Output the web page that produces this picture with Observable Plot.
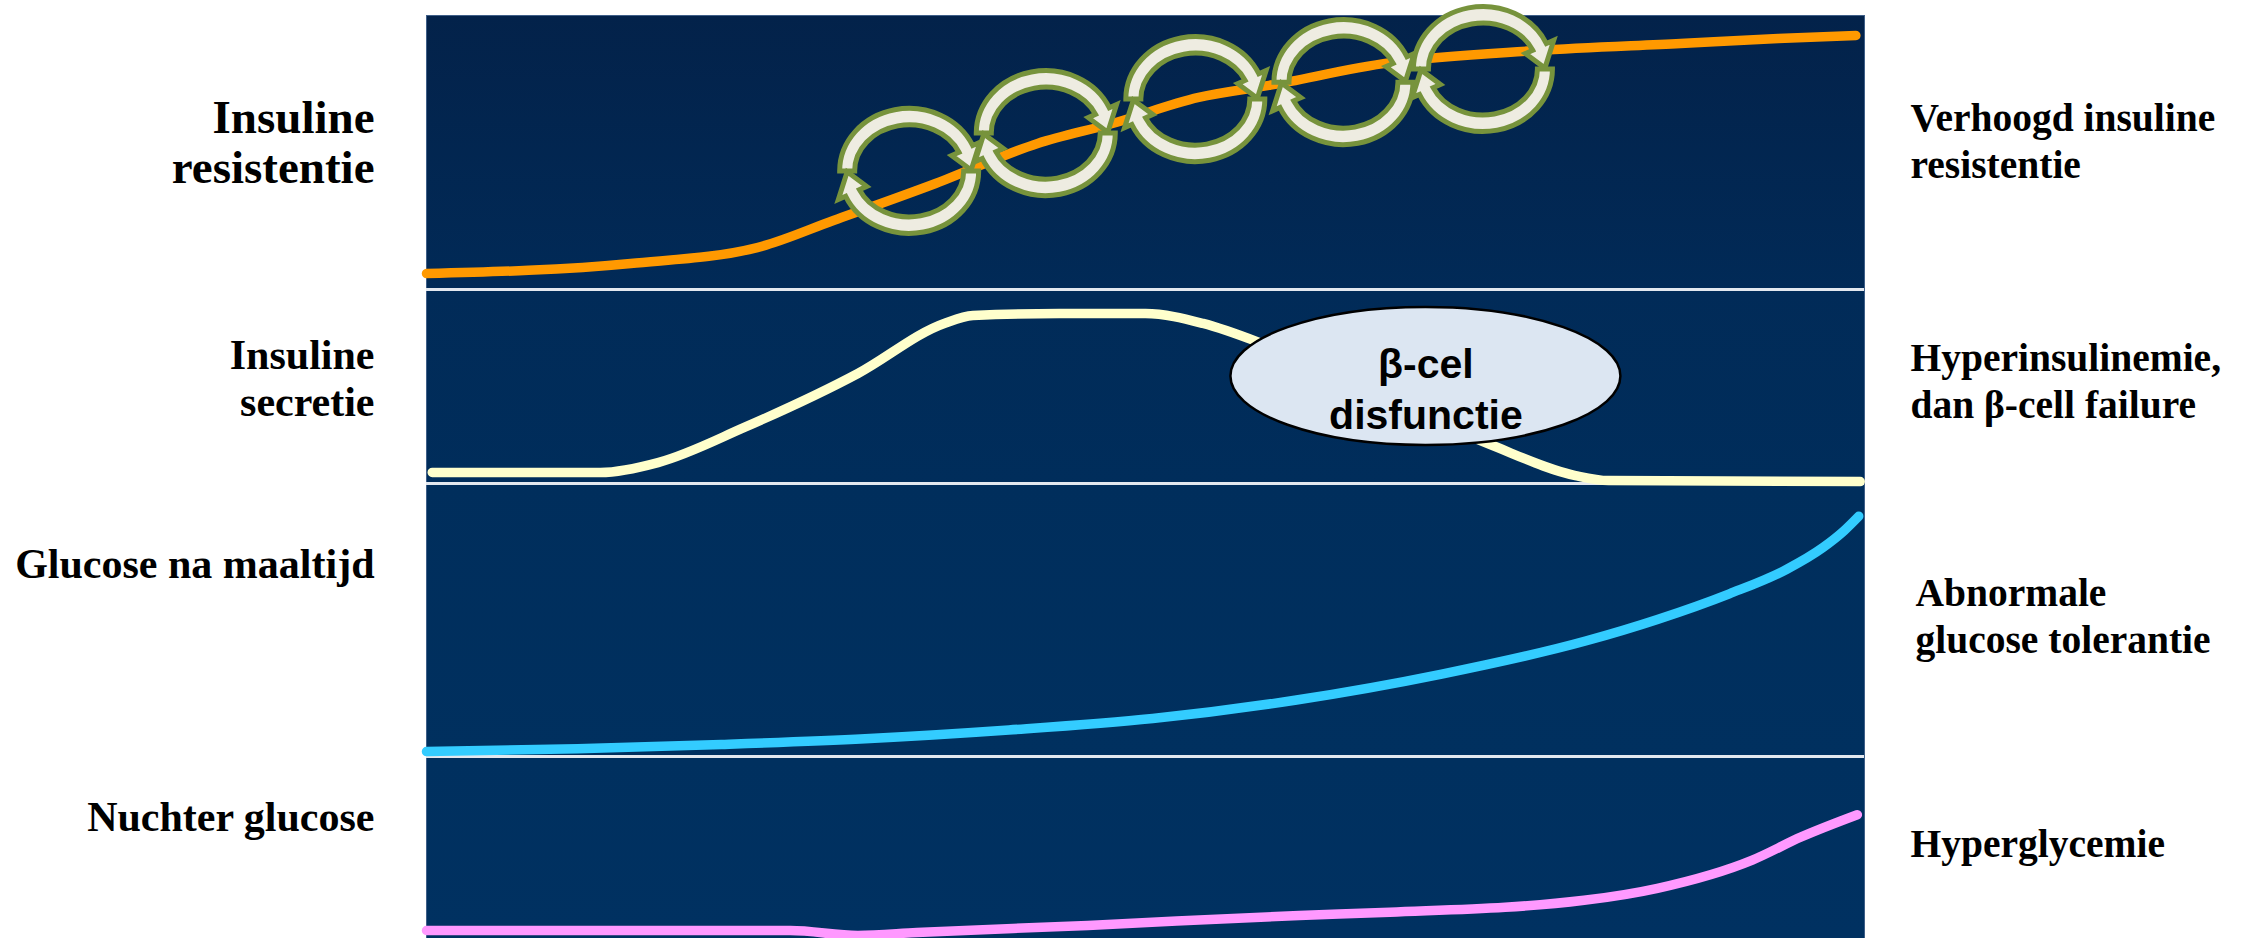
<!DOCTYPE html>
<html>
<head>
<meta charset="utf-8">
<script src="https://cdn.jsdelivr.net/npm/d3@7"></script>
<script src="https://cdn.jsdelivr.net/npm/@observablehq/plot@0.6"></script>
<style>
  html, body { margin: 0; padding: 0; background: #ffffff; }
  #chart { width: 2259px; height: 938px; position: relative; }
  #chart svg { display: block; }
</style>
</head>
<body>
<div id="chart"></div>
<script>
// ---------------- DATA (x = relative time 0–100, y = relative level 0–100 per band) ----------------
const resistanceX = [0, 14.2, 23, 28.3, 35.4, 42.5, 47.7, 53.7, 58.6, 67, 77.2, 87.2, 94, 99.4];
const resistanceY = [5.8, 9.5, 15.3, 25.2, 38.7, 53.3, 60.6, 70.1, 74.5, 82.8, 87.2, 89.8, 91.6, 92.7];

const secretionX = [0.4, 12.1, 16.1, 22.1, 30.0, 36.0, 38.0, 44.0, 50.0, 54.0, 57.9, 65.5, 73.8, 79.9, 82.2, 99.7];
const secretionY = [5.7, 5.7, 10.8, 28.9, 56.7, 82.5, 86.6, 87.6, 87.6, 82.5, 72.7, 46.9, 20.6, 4.1, 1.5, 1.0];

const postMealX = [0, 10.5, 20.5, 30.5, 40.5, 50.5, 60.5, 70.6, 80.6, 85.6, 90.6, 94.6, 97.1, 98.6, 99.6];
const postMealY = [1.8, 2.8, 4.4, 6.5, 9.7, 13.9, 20.7, 30.2, 42.3, 50.2, 59.6, 68.6, 76.5, 82.8, 88.0];

const fastingX = [0, 25.3, 30.0, 34.1, 46.0, 60.7, 67, 80.5, 85.6, 92.2, 95.6, 99.5];
const fastingY = [4.4, 4.4, 1.7, 3.3, 7.2, 12.7, 14.4, 21.0, 27.6, 43.1, 55.8, 68.0];

// vicious-cycle arrows along the insulin-resistance curve
const cycleX = [33.6, 43.1, 53.5, 63.8, 73.5];
const cycleY = [43.1, 56.9, 69.3, 75.5, 80.3];

// callout in the secretion band
const calloutLabel = ["β-cel\ndisfunctie"];
const calloutX = [69.5];
const calloutEllipseY = [55.2];
const calloutTextY = [49.5];

const leftLabels = ["Insuline\nresistentie", "Insuline\nsecretie", "Glucose na maaltijd", "Nuchter glucose"];
const rightLabels = ["Verhoogd insuline\nresistentie", "Hyperinsulinemie,\ndan β-cell failure", "Abnormale\nglucose tolerantie", "Hyperglycemie"];
const seriesColors = ["#ff9900", "#ffffcc", "#33ccff", "#ff99ff"];

// ---------------- LAYOUT ----------------
const W = 2259, ML = 426, MR = 395;
const ns = "http://www.w3.org/2000/svg";
const series = [
  [resistanceX, resistanceY],
  [secretionX, secretionY],
  [postMealX, postMealY],
  [fastingX, fastingY]
];
const panels = [
  {height: 289, top: 15, bg: ["#03224a", "#012a57"], left: {size: 47, lh: 50, base: 182}, right: {size: 39.5, lh: 47, base: 177, dx: 46}, sep: true},
  {height: 194, top: 0,  bg: ["#012b58", "#002d5b"], left: {size: 42, lh: 47, base: 126}, right: {size: 39.5, lh: 47, base: 128, dx: 46}, sep: true},
  {height: 273, top: 0,  bg: ["#002e5c", "#00305f"], left: {size: 42, lh: 47, base: 94},  right: {size: 39.5, lh: 47, base: 169, dx: 51}, sep: true},
  {height: 182, top: 0,  bg: ["#00305f", "#003161"], left: {size: 42, lh: 47, base: 74},  right: {size: 39.5, lh: 47, base: 100, dx: 46}, sep: false}
];

function gradientMark(id, colors) {
  return () => {
    const defs = document.createElementNS(ns, "defs");
    const lg = document.createElementNS(ns, "linearGradient");
    lg.setAttribute("id", id);
    lg.setAttribute("x1", "0"); lg.setAttribute("y1", "0");
    lg.setAttribute("x2", "0"); lg.setAttribute("y2", "1");
    colors.forEach((c, k) => {
      const s = document.createElementNS(ns, "stop");
      s.setAttribute("offset", k / (colors.length - 1));
      s.setAttribute("stop-color", c);
      lg.appendChild(s);
    });
    defs.appendChild(lg);
    return defs;
  };
}

function cycleArrows(index, scales) {
  const g = document.createElementNS(ns, "g");
  g.setAttribute("fill", "#eeece1");
  g.setAttribute("stroke", "#77933c");
  g.setAttribute("stroke-width", "5");
  g.setAttribute("stroke-linejoin", "miter");
  const O = [69.5, 62.5], I = [54.5, 46], M = [62, 54.25], w = 8;
  const Ow = [O[0] + w, O[1] + w], Iw = [I[0] - w, I[1] - w];
  for (let i = 0; i < cycleX.length; i++) {
    const cx = scales.x(cycleX[i]), cy = scales.y(cycleY[i]);
    const P = (a, r) => {
      const t = a * Math.PI / 180;
      return `${(cx + r[0] * Math.cos(t)).toFixed(2)},${(cy - r[1] * Math.sin(t)).toFixed(2)}`;
    };
    for (const [a0, a1, tip] of [[180, 24, 1], [0, -156, -179]]) {
      const path = document.createElementNS(ns, "path");
      path.setAttribute("d",
        `M${P(a0, O)}A${O[0]},${O[1]} 0 0 1 ${P(a1, O)}` +
        `L${P(a1, Ow)}L${P(tip, M)}L${P(a1, Iw)}L${P(a1, I)}` +
        `A${I[0]},${I[1]} 0 0 0 ${P(a0, I)}Z`);
      g.appendChild(path);
    }
  }
  return g;
}

function calloutEllipse(index, scales) {
  const e = document.createElementNS(ns, "ellipse");
  e.setAttribute("cx", scales.x(calloutX[0]));
  e.setAttribute("cy", scales.y(calloutEllipseY[0]));
  e.setAttribute("rx", 195);
  e.setAttribute("ry", 69);
  e.setAttribute("fill", "#dce6f2");
  e.setAttribute("stroke", "#000000");
  e.setAttribute("stroke-width", 2.5);
  return e;
}

const chart = document.getElementById("chart");
panels.forEach((p, i) => {
  const [xs, ys] = series[i];
  const pts = xs.map((x, k) => ({x, y: ys[k]}));
  const gid = `bandBg${i}`;
  const marks = [
    gradientMark(gid, p.bg),
    Plot.frame({fill: `url(#${gid})`, stroke: "#3f5f88", strokeWidth: 1}),
  ];
  if (p.sep) marks.push(Plot.ruleY([0], {stroke: "#e3e8ef", strokeWidth: 3}));
  marks.push(Plot.line(pts, {
    x: "x", y: "y", stroke: seriesColors[i], strokeWidth: 9.5,
    curve: "monotone-x", strokeLinecap: "round", strokeLinejoin: "round"
  }));
  if (i === 0) marks.push(cycleArrows);
  if (i === 1) {
    marks.push(calloutEllipse);
    marks.push(Plot.text(calloutLabel, {
      x: calloutX, y: calloutTextY, text: d => d,
      fontFamily: "'Liberation Sans', Arial, sans-serif", fontWeight: "bold",
      fontSize: 41, lineHeight: 51 / 41, fill: "#000000", textAnchor: "middle", lineAnchor: "middle"
    }));
  }
  marks.push(Plot.text([leftLabels[i]], {
    text: d => d, frameAnchor: "top-left", dx: -52, dy: p.left.base - p.top,
    textAnchor: "end", lineAnchor: "bottom",
    fontFamily: "'Liberation Serif', 'Times New Roman', serif", fontWeight: "bold",
    fontSize: p.left.size, lineHeight: p.left.lh / p.left.size, fill: "#000000"
  }));
  marks.push(Plot.text([rightLabels[i]], {
    text: d => d, frameAnchor: "top-right", dx: p.right.dx, dy: p.right.base - p.top,
    textAnchor: "start", lineAnchor: "bottom",
    fontFamily: "'Liberation Serif', 'Times New Roman', serif", fontWeight: "bold",
    fontSize: p.right.size, lineHeight: p.right.lh / p.right.size, fill: "#000000"
  }));

  const svg = Plot.plot({
    width: W, height: p.height,
    marginLeft: ML, marginRight: MR, marginTop: p.top, marginBottom: 0,
    x: {domain: [0, 100], axis: null},
    y: {domain: [0, 100], axis: null},
    marks
  });
  svg.style.overflow = "visible";
  svg.style.background = "transparent";
  svg.style.position = "relative";
  svg.style.zIndex = String(10 - i);
  svg.style.maxWidth = "none";
  chart.appendChild(svg);
});
</script>
</body>
</html>
